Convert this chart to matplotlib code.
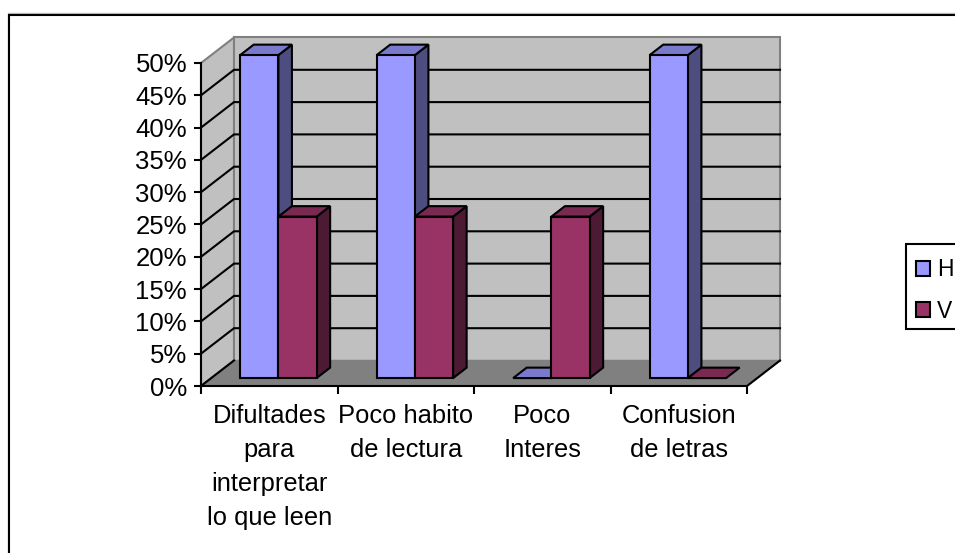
import matplotlib
matplotlib.use("Agg")
import matplotlib.pyplot as plt
from matplotlib.patches import Polygon, Rectangle, Patch

categories = ["Difultades\npara\ninterpretar\nlo que leen", "Poco habito\nde lectura", "Poco\nInteres", "Confusion\nde letras"]
series_names = ["H", "V"]
h_values = [50, 50, 0, 50]
v_values = [25, 25, 25, 0]
y_ticks = [0, 5, 10, 15, 20, 25, 30, 35, 40, 45, 50]

W, H = 955, 553
plt.rcParams['font.family'] = ['Liberation Sans', 'DejaVu Sans']
fig = plt.figure(figsize=(W / 100, H / 100), dpi=100, facecolor="white")
L, R, T, B = 201, 747, 63, 386
ax = fig.add_axes([L / W, 1 - B / H, (R - L) / W, (B - T) / H])
ax.set_xlim(0, 4)
ax.set_ylim(0, 50)
ax.patch.set_visible(False)

px_x = 4 / (R - L)
px_y = 50 / (B - T)
DX, DY = 33 * px_x, 25.5 * px_y
BLACK = "#000000"

# Outer chart border
fig.add_artist(Rectangle((7.5 / W, -0.02), 1.0, 1 - 13.5 / H + 0.02, transform=fig.transFigure,
                         fc="none", ec="#c0c0c0", lw=1.0))
fig.add_artist(Rectangle((8.5 / W, -0.02), 1.0, 1 - 14.5 / H + 0.02, transform=fig.transFigure,
                         fc="none", ec=BLACK, lw=1.5))

# Walls and floor
ax.add_patch(Polygon([(0, 0), (DX, DY), (DX, 50 + DY), (0, 50)], fc="#c0c0c0", ec="#808080", lw=1.5, clip_on=False, zorder=1))
ax.add_patch(Polygon([(DX, DY), (4 + DX, DY), (4 + DX, 50 + DY), (DX, 50 + DY)], fc="#c0c0c0", ec="#808080", lw=1.5, clip_on=False, zorder=1))
ax.add_patch(Polygon([(0, 0), (4, 0), (4 + DX, DY), (DX, DY)], fc="#808080", ec="#808080", lw=1, clip_on=False, zorder=1))

# Gridlines
for t in y_ticks[1:-1]:
    ax.plot([0, DX, 4 + DX], [t, t + DY, t + DY], color=BLACK, lw=1.5, clip_on=False, zorder=2, solid_joinstyle="miter")
ax.plot([0, DX], [0, DY], color=BLACK, lw=1.5, clip_on=False, zorder=2)
ax.plot([4, 4 + DX], [0, DY], color=BLACK, lw=1.5, clip_on=False, zorder=2)

# Bars
BW = 0.28
X0 = 0.212
Z0, Z1 = 0.31, 0.72
styles = [("#9999ff", "#7a7acc", "#4d4d80"), ("#993366", "#7a2952", "#4d1a33")]


def bar(x, v, colors, z):
    front, top, side = colors
    ex, ey = Z1 * DX, Z1 * DY
    sx, sy = Z0 * DX, Z0 * DY
    kw = dict(ec=BLACK, lw=1.5, clip_on=False, zorder=z, joinstyle="miter")
    x0, x1 = x + sx, x + BW + sx
    if v > 0:
        ax.add_patch(Polygon([(x1, sy), (x + BW + ex, ey), (x + BW + ex, v + ey), (x1, v + sy)], fc=side, **kw))
    ax.add_patch(Polygon([(x0, v + sy), (x1, v + sy), (x + BW + ex, v + ey), (x + ex, v + ey)], fc=top, **kw))
    if v > 0:
        ax.add_patch(Polygon([(x0, sy), (x1, sy), (x1, v + sy), (x0, v + sy)], fc=front, **kw))


for i in range(len(categories)):
    bar(i + X0, h_values[i], styles[0], 3 + i * 2)
    bar(i + X0 + BW, v_values[i], styles[1], 4 + i * 2)

# Axes
for s in ("top", "right"):
    ax.spines[s].set_visible(False)
for s in ("left", "bottom"):
    ax.spines[s].set_linewidth(1.5)
    ax.spines[s].set_zorder(30)
ax.set_yticks(y_ticks)
ax.set_yticklabels([f"{t}%" for t in y_ticks])
ax.set_xticks(range(len(categories) + 1))
ax.set_xticklabels([""] * (len(categories) + 1))
ax.set_xticks([i + 0.5 for i in range(len(categories))], minor=True)
ax.set_xticklabels(categories, minor=True, linespacing=1.52, fontsize=18.4)
ax.tick_params(axis="y", length=5, width=1.5, labelsize=18.5, pad=5)
ax.tick_params(axis="x", which="major", length=6, width=1.5)
ax.tick_params(axis="x", which="minor", length=0, pad=13)

# Legend: frame runs past the picture edge, as in the source
fig.add_artist(Rectangle((905.5 / W, 1 - 329 / H), 200 / W, 85 / H, transform=fig.transFigure,
                         fc="white", ec=BLACK, lw=1.5))
handles = [Patch(fc=styles[0][0], ec=BLACK, lw=1.5), Patch(fc=styles[1][0], ec=BLACK, lw=1.5)]
fig.legend(handles, series_names, loc="upper left",
           bbox_to_anchor=(902 / W, 1 - 244 / H), frameon=False,
           fontsize=16.5, handlelength=0.62, handleheight=0.62, handletextpad=0.3,
           borderpad=0.62, labelspacing=0.8, borderaxespad=0)

fig.savefig("out.png", dpi=100)
